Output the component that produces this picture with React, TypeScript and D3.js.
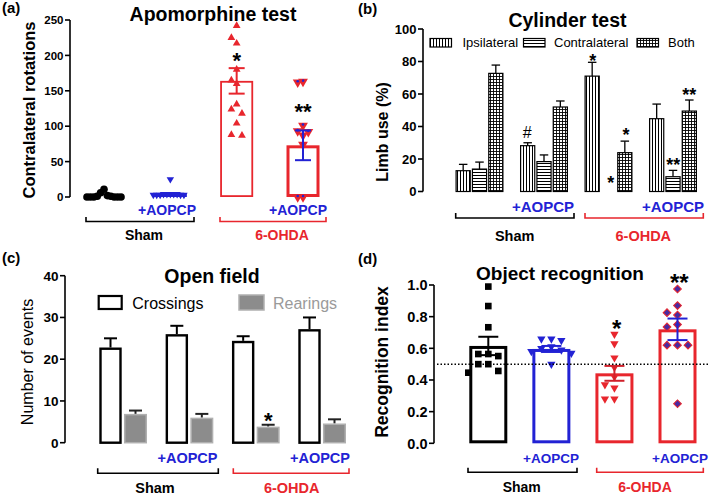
import React, { useEffect } from 'react';
import * as d3 from 'd3';

const FONT = '"Liberation Sans", Arial, Helvetica, sans-serif';
const RED = '#e8262d';
const BLUE = '#2222d4';
const PURPLE = '#4a2aa0';
const BLACK = '#000';
const GRAY = '#8c8c8c';

// ---------- (a) Apomorphine test ----------
const aGroups = ['Sham', 'Sham+AOPCP', '6-OHDA', '6-OHDA+AOPCP'];
const aMeans = [2, 4, 164, 73];
const aSem = [1, 1, 18, 21];
const aTicks = [0, 50, 100, 150, 200, 250];
const aPtsSham = [0, 0, 0, 1, 0, 1, 0, 2, 0, 6, 11];
const aPtsShamAopcp = [3, 4, 3, 4, 3, 4, 3, 4, 3, 4, 25];
const aPtsOhda = [242, 225, 217, 180, 165, 160, 131, 124, 118, 104, 87, 88];
const aPtsOhdaAopcp = [163, 162, 101, 93, 92, 87, 74, 0, 0];
const aStars = ['', '', '*', '**'];

// ---------- (b) Cylinder test ----------
const bGroups = ['Sham', 'Sham+AOPCP', '6-OHDA', '6-OHDA+AOPCP'];
const bSeries = ['Ipsilateral', 'Contralateral', 'Both'];
const bIpsi = [12.8, 28.2, 71, 44.8];
const bIpsiSem = [3.9, 1.8, 8.5, 9];
const bContra = [13.8, 18.4, 0, 9.1];
const bContraSem = [4.3, 4.1, 0, 3.9];
const bBoth = [72.7, 52, 23.9, 49.5];
const bBothSem = [5.1, 3.7, 7.1, 6.8];
const bTicks = [0, 20, 40, 60, 80, 100];

// ---------- (c) Open field ----------
const cGroups = ['Sham', 'Sham+AOPCP', '6-OHDA', '6-OHDA+AOPCP'];
const cSeries = ['Crossings', 'Rearings'];
const cCross = [22.8, 26, 24.4, 27.2];
const cCrossSem = [2.2, 2, 1.1, 2.8];
const cRear = [6.9, 6.0, 3.85, 4.6];
const cRearSem = [0.8, 0.9, 0.45, 1.0];
const cTicks = [0, 10, 20, 30, 40];

// ---------- (d) Object recognition ----------
const dGroups = ['Sham', 'Sham+AOPCP', '6-OHDA', '6-OHDA+AOPCP'];
const dMeans = [0.615, 0.596, 0.442, 0.72];
const dSem = [0.058, 0.019, 0.047, 0.068];
const dPtsSham = [0.99, 0.867, 0.733, 0.564, 0.551, 0.564, 0.5, 0.5, 0.446, 0.457];
const dPtsShamAopcp = [0.66, 0.66, 0.65, 0.61, 0.6, 0.59, 0.58, 0.57, 0.5];
const dPtsOhda = [0.69, 0.63, 0.54, 0.48, 0.42, 0.37, 0.35, 0.28, 0.28];
const dPtsOhdaAopcp = [0.975, 0.87, 0.825, 0.81, 0.75, 0.735, 0.62, 0.62, 0.62, 0.25];
const dTicks = [0, 0.2, 0.4, 0.6, 0.8, 1.0];
const dChance = 0.5;

// ---------- helpers ----------
function swarm(vals: number[], y: (v: number) => number, step: number, sepY: number): number[] {
  const idx = vals.map((_, i) => i).sort((a, b) => vals[b] - vals[a]);
  const placed: { x: number; y: number }[] = [];
  const out = new Array(vals.length).fill(0);
  for (const i of idx) {
    const yy = y(vals[i]);
    for (let k = 0; k < 60; k++) {
      const off = k === 0 ? 0 : (k % 2 === 1 ? -1 : 1) * Math.ceil(k / 2) * step;
      if (!placed.some(p => Math.abs(p.y - yy) < sepY && Math.abs(p.x - off) < step * 0.99)) {
        out[i] = off;
        placed.push({ x: off, y: yy });
        break;
      }
    }
  }
  return out;
}

const symPath = (t: any, s: number) => d3.symbol().type(t).size(s)() as string;

function Marker({ kind, x, y, size, fill, stroke, sw }: any) {
  let path = '';
  let rot = 0;
  if (kind === 'circle') path = symPath(d3.symbolCircle, size);
  else if (kind === 'tri') path = symPath(d3.symbolTriangle, size);
  else if (kind === 'triDown') { path = symPath(d3.symbolTriangle, size); rot = 180; }
  else if (kind === 'square') path = symPath(d3.symbolSquare, size);
  else if (kind === 'diamond') { path = symPath(d3.symbolSquare, size); rot = 45; }
  return (
    <path d={path} transform={`translate(${x},${y}) rotate(${rot})`} fill={fill}
      stroke={stroke || 'none'} strokeWidth={sw || 0} />
  );
}

function YAxis({ x, scale, ticks, fs, fmt }: any) {
  const [d0, d1] = scale.domain();
  return (
    <g>
      <line x1={x} x2={x} y1={scale(d0)} y2={scale(d1)} stroke={BLACK} strokeWidth={1.6} />
      {ticks.map((t: number) => (
        <g key={t}>
          <line x1={x - 5} x2={x} y1={scale(t)} y2={scale(t)} stroke={BLACK} strokeWidth={1.6} />
          <text x={x - 6.5} y={scale(t)} dy="0.36em" textAnchor="end" fontSize={fs} fontWeight="bold">
            {fmt ? fmt(t) : t}
          </text>
        </g>
      ))}
    </g>
  );
}

function Bracket({ x1, x2, y, h, color }: any) {
  return <path d={`M${x1},${y - h}V${y}H${x2}V${y - h}`} fill="none" stroke={color} strokeWidth={1.6} />;
}

function ErrBar({ x, yTop, yBot, cap, color, sw, lowerCap }: any) {
  return (
    <g stroke={color} strokeWidth={sw}>
      <line x1={x} x2={x} y1={yTop} y2={yBot} />
      <line x1={x - cap / 2} x2={x + cap / 2} y1={yTop} y2={yTop} />
      {lowerCap && <line x1={x - cap / 2} x2={x + cap / 2} y1={yBot} y2={yBot} />}
    </g>
  );
}

function Star({ x, cy, text, fs }: any) {
  return (
    <text x={x} y={cy + fs * 0.58} textAnchor="middle" fontSize={fs} fontWeight="bold">{text}</text>
  );
}

function OutlineBar({ cx, w, yTop, y0, color, sw }: any) {
  const h = Math.max(0, y0 - yTop - sw);
  return (
    <rect x={cx - w / 2 + sw / 2} y={yTop + sw / 2} width={w - sw} height={h}
      fill="none" stroke={color} strokeWidth={sw} />
  );
}

// ---------- Panel (a) ----------
function PanelA() {
  const y = d3.scaleLinear().domain([0, 250]).range([197, 20]);
  const x = d3.scalePoint<string>().domain(aGroups).range([104, 303]);
  const bw = 33;
  const stroke = [BLACK, BLUE, RED, RED];
  const sw = [2, 2, 1.8, 3];
  const errC = [BLACK, BLUE, RED, BLUE];
  const pts = [aPtsSham, aPtsShamAopcp, aPtsOhda, aPtsOhdaAopcp];
  const mk = [
    { kind: 'circle', size: 46, fill: BLACK, step: 3.4, sepY: 8 },
    { kind: 'triDown', size: 24, fill: BLUE, step: 3.4, sepY: 6 },
    { kind: 'tri', size: 26, fill: RED, step: 5.3, sepY: 13 },
    { kind: 'triDown', size: 42, fill: RED, step: 5.3, sepY: 9 },
  ];
  return (
    <g>
      <text x={2} y={12.5} fontSize={15} fontWeight="bold">(a)</text>
      <text x={213} y={21} fontSize={19.5} fontWeight="bold" textAnchor="middle">Apomorphine test</text>
      <text transform="translate(35,110) rotate(-90)" textAnchor="middle" fontSize={16.5} fontWeight="bold">
        Contralateral rotations
      </text>
      <YAxis x={70} scale={y} ticks={aTicks} fs={11.5} />
      {aGroups.map((g, i) => {
        const cx = x(g)!;
        const offs = swarm(pts[i], y, mk[i].step, mk[i].sepY);
        return (
          <g key={g}>
            <OutlineBar cx={cx} w={bw} yTop={y(aMeans[i])} y0={y(0)} color={stroke[i]} sw={sw[i]} />
            {pts[i].map((v, j) => (
              <g key={j}>
                <Marker kind={mk[i].kind} x={cx + offs[j]} y={y(v)} size={mk[i].size} fill={mk[i].fill} />
                {i === 3 && <circle cx={cx + offs[j]} cy={y(v) - 1} r={1.3} fill={BLUE} />}
              </g>
            ))}
            {i >= 2 && (
              <ErrBar x={cx} yTop={y(aMeans[i] + aSem[i])} yBot={y(aMeans[i] - aSem[i])} cap={16}
                color={errC[i]} sw={2} lowerCap />
            )}
            {aStars[i] && (
              <Star x={cx} cy={i === 2 ? 55 : 106.7} text={aStars[i]} fs={22} />
            )}
          </g>
        );
      })}
      <text x={167} y={215} fontSize={14} fontWeight="bold" fill={BLUE} textAnchor="middle">+AOPCP</text>
      <text x={298} y={215} fontSize={14} fontWeight="bold" fill={BLUE} textAnchor="middle">+AOPCP</text>
      <Bracket x1={86} x2={194} y={221.5} h={4.5} color={BLACK} />
      <Bracket x1={220} x2={326} y={221.5} h={4.5} color={RED} />
      <text x={144} y={240} fontSize={14} fontWeight="bold" textAnchor="middle">Sham</text>
      <text x={282} y={240} fontSize={14} fontWeight="bold" fill={RED} textAnchor="middle">6-OHDA</text>
    </g>
  );
}

// ---------- Panel (b) ----------
function PanelB() {
  const y = d3.scaleLinear().domain([0, 100]).range([191.5, 29]);
  const x = d3.scalePoint<string>().domain(bGroups).range([479.5, 673]);
  const xs = d3.scaleBand<string>().domain(bSeries).range([-24, 24]).paddingInner(0.06);
  const vals = [bIpsi, bContra, bBoth];
  const sems = [bIpsiSem, bContraSem, bBothSem];
  const pats = ['url(#pV)', 'url(#pH)', 'url(#pG)'];
  const legX = [430, 523.5, 637];
  const legT = [462.5, 554, 668];
  return (
    <g>
      <defs>
        <pattern id="pV" patternUnits="userSpaceOnUse" width={3} height={3}>
          <rect width={3} height={3} fill="#fff" />
          <line x1={1.5} x2={1.5} y1={0} y2={3} stroke="#000" strokeWidth={1} />
        </pattern>
        <pattern id="pH" patternUnits="userSpaceOnUse" width={3} height={3}>
          <rect width={3} height={3} fill="#fff" />
          <line x1={0} x2={3} y1={1.5} y2={1.5} stroke="#000" strokeWidth={1} />
        </pattern>
        <pattern id="pG" patternUnits="userSpaceOnUse" width={3} height={3}>
          <rect width={3} height={3} fill="#fff" />
          <line x1={1.5} x2={1.5} y1={0} y2={3} stroke="#000" strokeWidth={0.9} />
          <line x1={0} x2={3} y1={1.5} y2={1.5} stroke="#000" strokeWidth={0.9} />
        </pattern>
      </defs>
      <text x={358} y={13.5} fontSize={15} fontWeight="bold">(b)</text>
      <text x={567.5} y={27} fontSize={19.5} fontWeight="bold" textAnchor="middle">Cylinder test</text>
      <text transform="translate(388,132) rotate(-90)" textAnchor="middle" fontSize={16} fontWeight="bold">
        Limb use (%)
      </text>
      <YAxis x={423} scale={y} ticks={bTicks} fs={13} />
      {bSeries.map((s, k) => (
        <g key={s}>
          <rect x={legX[k]} y={38.5} width={21.5} height={8.5} fill={pats[k]} stroke={BLACK} strokeWidth={1.2} />
          <text x={legT[k]} y={47} fontSize={13}>{s}</text>
        </g>
      ))}
      {bGroups.map((g, i) => (
        <g key={g}>
          {bSeries.map((s, k) => {
            const v = vals[k][i];
            const bx = x(g)! + xs(s)!;
            const bwid = xs.bandwidth();
            if (v <= 0) return null;
            return (
              <g key={s}>
                <ErrBar x={bx + bwid / 2} yTop={y(v + sems[k][i])} yBot={y(v)} cap={8.5} color={BLACK} sw={1.3} />
                <rect x={bx + 0.6} y={y(v)} width={bwid - 1.2} height={y(0) - y(v)} fill={pats[k]}
                  stroke={BLACK} strokeWidth={1.2} />
              </g>
            );
          })}
        </g>
      ))}
      <text x={527.3} y={137.5} fontSize={16} textAnchor="middle">#</text>
      <Star x={592.7} cy={56.7} text="*" fs={18} />
      <Star x={610.7} cy={179} text="*" fs={18} />
      <Star x={626} cy={131} text="*" fs={18} />
      <Star x={673.3} cy={161} text="**" fs={18} />
      <Star x={689.3} cy={90.7} text="**" fs={18} />
      <text x={543} y={212} fontSize={15} fontWeight="bold" fill={BLUE} textAnchor="middle">+AOPCP</text>
      <text x={673} y={212} fontSize={15} fontWeight="bold" fill={BLUE} textAnchor="middle">+AOPCP</text>
      <Bracket x1={455.7} x2={574} y={218} h={5} color={BLACK} />
      <Bracket x1={585} x2={703.3} y={218} h={5} color={RED} />
      <text x={514.7} y={240.5} fontSize={14.5} fontWeight="bold" textAnchor="middle">Sham</text>
      <text x={643.3} y={240.5} fontSize={14.5} fontWeight="bold" fill={RED} textAnchor="middle">6-OHDA</text>
    </g>
  );
}

// ---------- Panel (c) ----------
function PanelC() {
  const y = d3.scaleLinear().domain([0, 40]).range([442.7, 275.7]);
  const x = d3.scalePoint<string>().domain(cGroups).range([123.5, 322.5]);
  return (
    <g>
      <text x={2} y={263} fontSize={15} fontWeight="bold">(c)</text>
      <text x={212} y={283} fontSize={19.5} fontWeight="bold" textAnchor="middle">Open field</text>
      <text transform="translate(33,362) rotate(-90)" textAnchor="middle" fontSize={16}>Number of events</text>
      <YAxis x={65} scale={y} ticks={cTicks} fs={13.5} />
      <rect x={98.7} y={296} width={23} height={13} fill="#fff" stroke={BLACK} strokeWidth={2.2} />
      <text x={132.3} y={309} fontSize={16}>{cSeries[0]}</text>
      <rect x={239} y={295} width={25} height={15} fill={GRAY} stroke="#b0b0b0" strokeWidth={1.5} />
      <text x={273} y={309} fontSize={16} fill="#9a9a9a">{cSeries[1]}</text>
      {cGroups.map((g, i) => {
        const cx = x(g)!;
        const c0 = cx - 24.2, c1 = cx - 1.8;
        const r0 = cx + 0.5, r1 = cx + 23.5;
        return (
          <g key={g}>
            <ErrBar x={(c0 + c1) / 2} yTop={y(cCross[i] + cCrossSem[i])} yBot={y(cCross[i])} cap={13} color={BLACK} sw={2} />
            <rect x={c0 + 1.2} y={y(cCross[i]) + 1.2} width={c1 - c0 - 2.4} height={y(0) - y(cCross[i]) - 1.2}
              fill="#fff" stroke={BLACK} strokeWidth={2.4} />
            <ErrBar x={(r0 + r1) / 2} yTop={y(cRear[i] + cRearSem[i])} yBot={y(cRear[i])} cap={13} color="#222" sw={2} />
            <rect x={r0 + 0.75} y={y(cRear[i]) + 0.75} width={r1 - r0 - 1.5} height={y(0) - y(cRear[i]) - 0.75}
              fill={GRAY} stroke="#b0b0b0" strokeWidth={1.5} />
          </g>
        );
      })}
      <Star x={268.3} cy={415} text="*" fs={22} />
      <text x={187.5} y={463} fontSize={14.5} fontWeight="bold" fill={BLUE} textAnchor="middle">+AOPCP</text>
      <text x={320} y={463} fontSize={14.5} fontWeight="bold" fill={BLUE} textAnchor="middle">+AOPCP</text>
      <Bracket x1={97.7} x2={218.3} y={473.3} h={5} color={BLACK} />
      <Bracket x1={233.3} x2={349} y={473.3} h={5} color={RED} />
      <text x={155} y={493} fontSize={14.5} fontWeight="bold" textAnchor="middle">Sham</text>
      <text x={291.7} y={493} fontSize={14.5} fontWeight="bold" fill={RED} textAnchor="middle">6-OHDA</text>
    </g>
  );
}

// ---------- Panel (d) ----------
function PanelD() {
  const y = d3.scaleLinear().domain([0, 1]).range([443.3, 285]);
  const x = d3.scalePoint<string>().domain(dGroups).range([488.3, 677.5]);
  const bw = 38;
  const stroke = [BLACK, BLUE, RED, RED];
  const errC = [BLACK, BLUE, '#d0202a', BLUE];
  const pts = [dPtsSham, dPtsShamAopcp, dPtsOhda, dPtsOhdaAopcp];
  const mk = [
    { kind: 'square', size: 44, fill: BLACK, step: 10, sepY: 9 },
    { kind: 'triDown', size: 30, fill: BLUE, step: 10, sepY: 7 },
    { kind: 'triDown', size: 30, fill: RED, step: 9.5, sepY: 9 },
    { kind: 'diamond', size: 30, fill: PURPLE, step: 10.5, sepY: 9 },
  ];
  return (
    <g>
      <text x={358} y={264} fontSize={15} fontWeight="bold">(d)</text>
      <text x={560} y={280} fontSize={19} fontWeight="bold" textAnchor="middle">Object recognition</text>
      <text transform="translate(388,362) rotate(-90)" textAnchor="middle" fontSize={17.5} fontWeight="bold">
        Recognition index
      </text>
      <YAxis x={434} scale={y} ticks={dTicks} fs={14.5} fmt={(t: number) => d3.format('.1f')(t)} />
      {dGroups.map((g, i) => {
        const cx = x(g)!;
        const offs = swarm(pts[i], y, mk[i].step, mk[i].sepY);
        return (
          <g key={g}>
            <OutlineBar cx={cx} w={bw} yTop={y(dMeans[i])} y0={y(0)} color={stroke[i]} sw={3} />
            {pts[i].map((v, j) => (
              <Marker key={j} kind={mk[i].kind} x={cx + offs[j]} y={y(v)} size={mk[i].size} fill={mk[i].fill}
                stroke={i === 3 ? RED : undefined} sw={i === 3 ? 1 : 0} />
            ))}
            <ErrBar x={cx} yTop={y(dMeans[i] + dSem[i])} yBot={y(dMeans[i] - dSem[i])} cap={20}
              color={errC[i]} sw={2} lowerCap />
          </g>
        );
      })}
      <line x1={437} x2={709} y1={y(dChance)} y2={y(dChance)} stroke={BLACK} strokeWidth={1.5} strokeDasharray="1.5,2" />
      <Star x={616.7} cy={322.7} text="*" fs={24} />
      <Star x={679.3} cy={277.3} text="**" fs={24} />
      <text x={551} y={463} fontSize={13.5} fontWeight="bold" fill={BLUE} textAnchor="middle">+AOPCP</text>
      <text x={680} y={463} fontSize={13.5} fontWeight="bold" fill={BLUE} textAnchor="middle">+AOPCP</text>
      <Bracket x1={468} x2={577} y={472.3} h={4.6} color={BLACK} />
      <Bracket x1={596.7} x2={703.3} y={472.3} h={4.6} color={RED} />
      <text x={521.7} y={492} fontSize={14} fontWeight="bold" textAnchor="middle">Sham</text>
      <text x={645} y={492} fontSize={14} fontWeight="bold" fill={RED} textAnchor="middle">6-OHDA</text>
    </g>
  );
}

export default function App() {
  useEffect(() => {
    document.body.style.margin = '0';
  }, []);
  return (
    <svg width={709} height={495} viewBox="0 0 709 495"
      style={{ position: 'absolute', left: 0, top: 0, fontFamily: FONT, background: '#fff' }}>
      <rect width={709} height={495} fill="#fff" />
      <PanelA />
      <PanelB />
      <PanelC />
      <PanelD />
    </svg>
  );
}
